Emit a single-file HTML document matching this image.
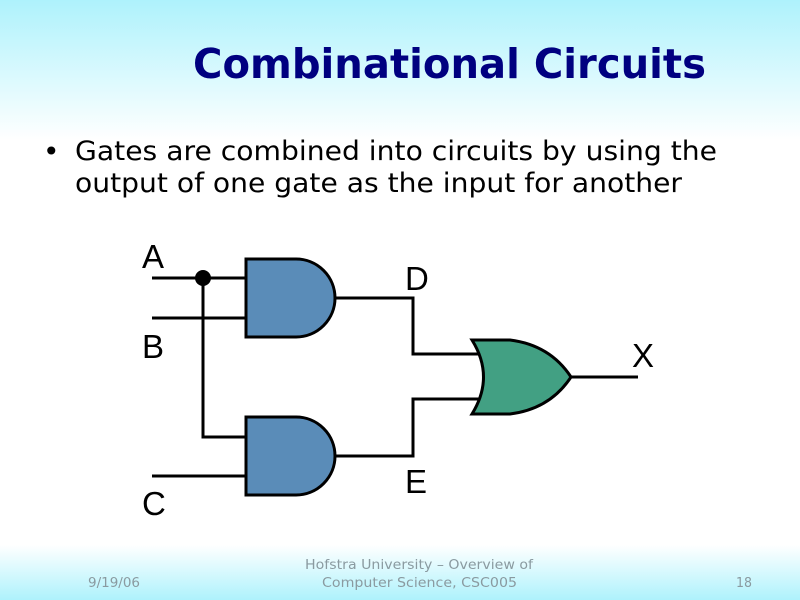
<!DOCTYPE html>
<html><head><meta charset="utf-8"><style>
html,body{margin:0;padding:0;width:800px;height:600px;overflow:hidden;background:#fff}
</style></head><body>
<svg width="800" height="600" viewBox="0 0 800 600" xmlns="http://www.w3.org/2000/svg">
<defs>
<linearGradient id="top" x1="0" y1="0" x2="0" y2="1">
<stop offset="0" stop-color="#aef2fc"/><stop offset="1" stop-color="#ffffff"/></linearGradient>
<linearGradient id="bot" x1="0" y1="0" x2="0" y2="1">
<stop offset="0" stop-color="#ffffff"/><stop offset="1" stop-color="#aef2fc"/></linearGradient>
</defs>
<rect x="0" y="0" width="800" height="600" fill="#fff"/>
<rect x="0" y="0" width="800" height="140" fill="url(#top)"/>
<rect x="0" y="545" width="800" height="55" fill="url(#bot)"/>
<text x="193" y="78" font-family="DejaVu Sans, sans-serif" font-weight="bold" font-size="41" fill="#000080" textLength="513" lengthAdjust="spacingAndGlyphs">Combinational Circuits</text>
<text x="43" y="161" font-family="DejaVu Sans, sans-serif" font-size="28" fill="#000">•</text>
<text x="75" y="160" font-family="DejaVu Sans, sans-serif" font-size="27" fill="#000" textLength="642" lengthAdjust="spacingAndGlyphs">Gates are combined into circuits by using the</text>
<text x="75" y="192" font-family="DejaVu Sans, sans-serif" font-size="27" fill="#000" textLength="607" lengthAdjust="spacingAndGlyphs">output of one gate as the input for another</text>

<g stroke="#000" stroke-width="3" fill="none">
<line x1="152" y1="278" x2="246" y2="278"/>
<line x1="152" y1="318" x2="246" y2="318"/>
<polyline points="203,278 203,437 246,437"/>
<line x1="152" y1="476" x2="246" y2="476"/>
<polyline points="335,298 413,298 413,354 482,354"/>
<polyline points="335,456 413,456 413,399 482,399"/>
<line x1="571" y1="377" x2="638" y2="377"/>
</g>
<circle cx="203" cy="278" r="8" fill="#000"/>
<path d="M246,259 H296 A39,39 0 0 1 296,337 H246 Z" fill="#5a8cb8" stroke="#000" stroke-width="3"/>
<path d="M246,417 H296 A39,39 0 0 1 296,495 H246 Z" fill="#5a8cb8" stroke="#000" stroke-width="3"/>
<path d="M472,340 H510 Q550,345 571,377 Q550,409 510,414 H472 Q495,377 472,340 Z" fill="#42a083" stroke="#000" stroke-width="3"/>

<g font-family="Liberation Sans, sans-serif" font-size="33" fill="#000">
<text x="142" y="268">A</text>
<text x="142" y="358">B</text>
<text x="142" y="515">C</text>
<text x="405" y="290">D</text>
<text x="405" y="493">E</text>
<text x="632" y="367">X</text>
</g>

<g font-family="DejaVu Sans, sans-serif" font-size="13" fill="#8a9aa0">
<text x="88" y="587" textLength="52" lengthAdjust="spacingAndGlyphs">9/19/06</text>
<text x="305" y="569" textLength="228" lengthAdjust="spacingAndGlyphs">Hofstra University – Overview of</text>
<text x="322" y="587" textLength="195" lengthAdjust="spacingAndGlyphs">Computer Science, CSC005</text>
<text x="736" y="587" textLength="16" lengthAdjust="spacingAndGlyphs">18</text>
</g>
</svg>
</body></html>
